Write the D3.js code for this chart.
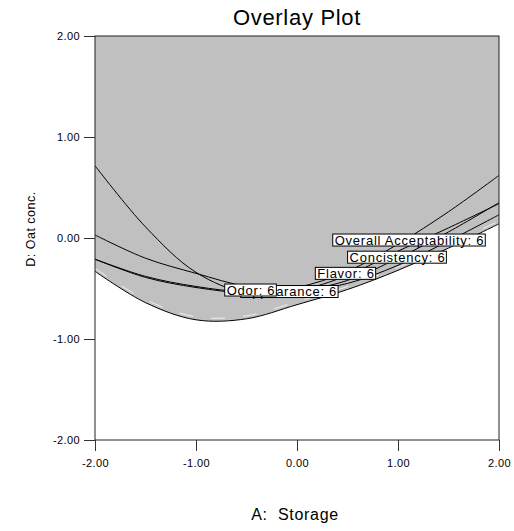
<!DOCTYPE html>
<html>
<head>
<meta charset="utf-8">
<script src="https://cdn.jsdelivr.net/npm/d3@7"></script>
<style>
  html, body { margin: 0; padding: 0; background: #fff; }
  svg { display: block; font-family: "Liberation Sans", Arial, sans-serif; }
</style>
</head>
<body>
<div id="chart"></div>
<script>
// ---- data (A: Storage on x, D: Oat conc. on y) ----
const xTicks = [-2, -1, 0, 1, 2];
const yTicks = [-2, -1, 0, 1, 2];
const aValues = [-2, -1.5, -1, -0.5, 0, 0.5, 1, 1.5, 2];

const overallAcceptability = [0.716, 0.11, -0.34, -0.54, -0.49, -0.33, -0.06, 0.26, 0.62];
const concistency          = [0.03, -0.20, -0.35, -0.48, -0.52, -0.42, -0.20, 0.06, 0.35];
const flavor               = [-0.21, -0.38, -0.48, -0.535, -0.52, -0.37, -0.13, 0.10, 0.34];
const appearance           = [-0.21, -0.39, -0.49, -0.545, -0.53, -0.45, -0.27, -0.03, 0.23];
const boundary             = [-0.33, -0.64, -0.81, -0.80, -0.66, -0.51, -0.32, -0.10, 0.14];

const labelNames = ["Overall Acceptability: 6", "Concistency: 6", "Flavor: 6", "Appearance: 6", "Odor: 6"];
const labelA = [1.114, 0.995, 0.485, -0.07, -0.455];
const labelD = [-0.02, -0.19, -0.35, -0.53, -0.515];

// ---- layout ----
const W = 514, H = 531;
const L = 95, R = 499, T = 36, B = 440;

const svg = d3.select("#chart").append("svg").attr("width", W).attr("height", H);

const x = d3.scaleLinear().domain([-2, 2]).range([L, R]);
const y = d3.scaleLinear().domain([-2, 2]).range([B, T]);

svg.append("defs").append("clipPath").attr("id", "plotclip")
  .append("rect").attr("x", L).attr("y", T).attr("width", R - L).attr("height", B - T);

const plot = svg.append("g").attr("clip-path", "url(#plotclip)");

const pts = vals => aValues.map((a, i) => [a, vals[i]]);

// gray region above the lower contour
const area = d3.area()
  .x(d => x(d[0])).y0(y(2)).y1(d => y(d[1]))
  .curve(d3.curveCatmullRom);
plot.append("path").datum(pts(boundary))
  .attr("d", area).attr("fill", "#c0c0c0");

// faint white stair artifacts just above the boundary
const line = d3.line().x(d => x(d[0])).y(d => y(d[1])).curve(d3.curveCatmullRom);
plot.append("path").datum(pts(boundary))
  .attr("d", line).attr("transform", "translate(0,-3)")
  .attr("fill", "none").attr("stroke", "#f4f4f4").attr("stroke-width", 1)
  .attr("stroke-dasharray", "14,18").attr("opacity", 0.9);

// contour lines
[overallAcceptability, concistency, flavor, appearance, boundary].forEach(vals => {
  plot.append("path").datum(pts(vals))
    .attr("d", line).attr("fill", "none")
    .attr("stroke", "#000").attr("stroke-width", 1);
});

// labels (draw in order so Odor sits on top of Appearance, as in the original)
labelNames.forEach((name, i) => {
  const g = plot.append("g");
  const t = g.append("text")
    .attr("x", x(labelA[i])).attr("y", y(labelD[i]) + 4.6)
    .attr("text-anchor", "middle")
    .attr("font-size", 13).attr("letter-spacing", 0.75)
    .attr("fill", "#000").text(name);
  const bb = t.node().getBBox();
  g.insert("rect", "text")
    .attr("x", bb.x - 2).attr("y", y(labelD[i]) - 6)
    .attr("width", bb.width + 3).attr("height", 12)
    .attr("fill", "#fff").attr("stroke", "#000").attr("stroke-width", 1);
});

// frame
svg.append("rect").attr("x", L).attr("y", T).attr("width", R - L).attr("height", B - T)
  .attr("fill", "none").attr("stroke", "#222").attr("stroke-width", 1);

// axes
const fmt = d => d.toFixed(2);
const yAxis = svg.append("g").attr("transform", `translate(${L},0)`)
  .call(d3.axisLeft(y).tickValues(yTicks).tickFormat(fmt).tickSize(11).tickPadding(4));
const xAxis = svg.append("g").attr("transform", `translate(0,${B})`)
  .call(d3.axisBottom(x).tickValues(xTicks).tickFormat(fmt).tickSize(11).tickPadding(8));
[yAxis, xAxis].forEach(ax => {
  ax.select(".domain").remove();
  ax.selectAll(".tick line").attr("stroke", "#333");
  ax.selectAll(".tick text").attr("font-size", 11).attr("letter-spacing", 0.4)
    .attr("fill", "#000").attr("font-family", "Liberation Sans, Arial, sans-serif");
});

// titles
svg.append("text").attr("x", (L + R) / 2).attr("y", 25)
  .attr("text-anchor", "middle").attr("font-size", 22).attr("letter-spacing", 0.7)
  .attr("fill", "#000").text("Overlay Plot");

svg.append("text").attr("x", 295).attr("y", 520)
  .attr("text-anchor", "middle").attr("font-size", 16).attr("letter-spacing", 0.7)
  .attr("xml:space", "preserve").style("white-space", "pre")
  .attr("fill", "#000").text("A:  Storage");

svg.append("text").attr("transform", "translate(35,229) rotate(-90)")
  .attr("text-anchor", "middle").attr("font-size", 12.5).attr("letter-spacing", 0.5)
  .attr("fill", "#000").text("D: Oat conc.");
</script>
</body>
</html>
